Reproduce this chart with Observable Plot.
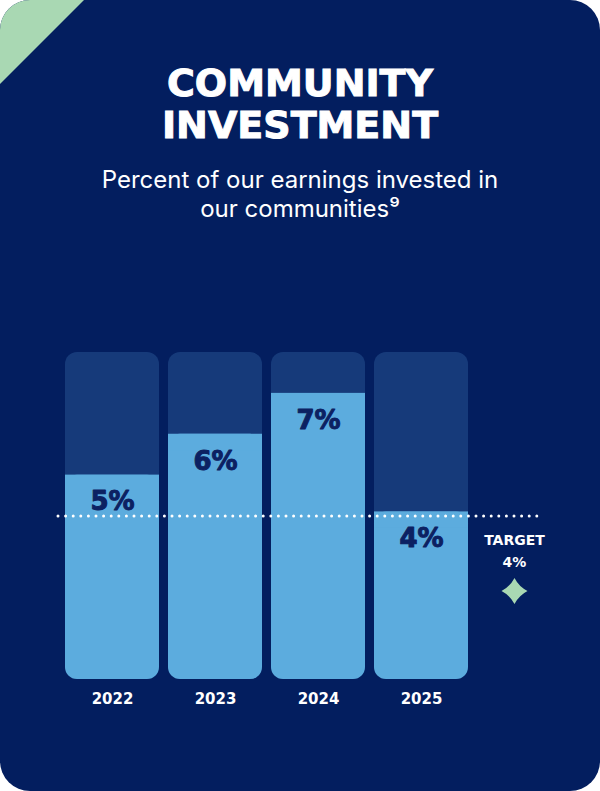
<!DOCTYPE html>
<html>
<head>
<meta charset="utf-8">
<script src="https://cdn.jsdelivr.net/npm/d3@7"></script>
<script src="https://cdn.jsdelivr.net/npm/@observablehq/plot@0.6"></script>
<style>
  html, body { margin: 0; padding: 0; background: #ffffff; }
  .card { position: relative; width: 600px; height: 791px; background: #031e5f; border-radius: 30px; overflow: hidden; }
  .corner { position: absolute; left: 0; top: 0; width: 84px; height: 84px; background: #a9d8b3; clip-path: polygon(0 0, 100% 0, 0 100%); }
  .title { position: absolute; left: 0; top: 62px; width: 600px; text-align: center; color: #fff;
           font-family: "DejaVu Sans", sans-serif; font-weight: bold; font-size: 38px; line-height: 42px;
           -webkit-text-stroke: 1px #fff; }
  .subtitle { position: absolute; left: 0; top: 165px; width: 600px; text-align: center; color: #fff;
              font-family: "Inter", sans-serif; font-weight: 400; font-size: 24px; line-height: 29px; }
  #chart { position: absolute; left: 0; top: 300px; }
</style>
</head>
<body>
<div class="card">
  <div class="corner"></div>
  <div class="title">COMMUNITY<br>INVESTMENT</div>
  <div class="subtitle">Percent of our earnings invested in<br>our communities⁹</div>
  <div id="chart"></div>
</div>
<script>
const years = ["2022", "2023", "2024", "2025"];
const values = [5, 6, 7, 4.1];
const valueLabels = ["5%", "6%", "7%", "4%"];
const target = 4;
const targetLabel = "TARGET\n4%";
const yMax = 8;

const data = years.map((year, i) => ({year, value: values[i], label: valueLabels[i]}));
const targetData = [{y: target, label: targetLabel}];

const star = {
  draw(ctx, size) {
    const r = Math.sqrt(size / Math.PI);
    const k = r * 0.34;
    ctx.moveTo(0, -r);
    ctx.quadraticCurveTo(k, -k, r, 0);
    ctx.quadraticCurveTo(k, k, 0, r);
    ctx.quadraticCurveTo(-k, k, -r, 0);
    ctx.quadraticCurveTo(-k, -k, 0, -r);
    ctx.closePath();
  }
};

const chart = Plot.plot({
  width: 600,
  height: 491,
  marginTop: 52,
  marginBottom: 112,
  marginLeft: 64,
  marginRight: 131,
  style: {background: "transparent", overflow: "visible"},
  x: {domain: years, paddingInner: 0.087, paddingOuter: 0, axis: null},
  y: {domain: [0, yMax], axis: null},
  marks: [
    Plot.barY(data, {x: "year", y1: 0, y2: yMax, fill: "#163a7a", rx: 12}),
    Plot.barY(data, {x: "year", y1: 0, y2: "value", fill: "#5cacde", rx: 12}),
    Plot.barY(data, {x: "year", y1: d => d.value - 0.4, y2: "value", fill: "#5cacde"}),
    Plot.ruleY([target], {stroke: "#ffffff", strokeWidth: 3, strokeDasharray: "0 7.6", strokeLinecap: "round", insetLeft: -6, insetRight: -73}),
    Plot.text(data, {x: "year", y: "value", text: "label", dy: 27, fill: "#0c2162", fontSize: 26, fontWeight: 900, fontFamily: "DejaVu Sans", stroke: "#0c2162", strokeWidth: 1}),
    Plot.text(data, {x: "year", y: 0, text: "year", dy: 20, fill: "#ffffff", fontSize: 15, fontWeight: "bold", fontFamily: "DejaVu Sans"}),
    Plot.text(targetData, {y: "y", text: "label", frameAnchor: "right", textAnchor: "middle", dx: 45, dy: 33, lineHeight: 1.55, fill: "#ffffff", fontSize: 14, fontWeight: "bold", fontFamily: "DejaVu Sans"}),
    Plot.dot(targetData, {y: "y", frameAnchor: "right", dx: 45, dy: 75, r: 13, symbol: star, fill: "#a9d8b3", stroke: null})
  ]
});
document.getElementById("chart").appendChild(chart);
</script>
</body>
</html>
